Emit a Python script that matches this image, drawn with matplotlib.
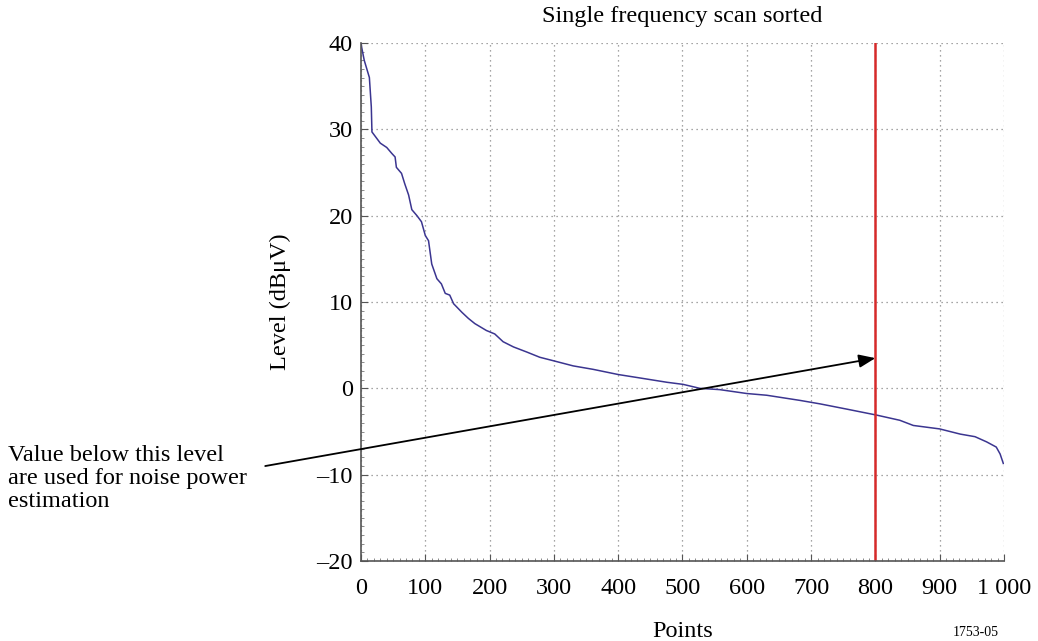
import numpy as np
import matplotlib.pyplot as plt
from matplotlib.ticker import MultipleLocator

plt.rcParams['font.family'] = ['Liberation Serif', 'DejaVu Serif']

# sorted scan
points = [0, 1, 5, 9, 13, 16, 17, 23, 30, 40, 48, 53, 55, 63, 68, 74, 79, 87,
          94, 100, 105, 110, 118, 125, 131, 138, 144, 157, 167, 177, 195, 208,
          221, 237, 258, 278, 299, 330, 361, 400, 434, 476, 501, 527, 558, 600,
          631, 683, 714, 755, 802, 838, 859, 900, 932, 955, 973, 988, 994, 999]
level = [40.0, 39.5, 38.0, 37.0, 36.0, 32.6, 29.7, 29.1, 28.4, 27.9, 27.2, 26.8,
         25.6, 24.9, 23.7, 22.4, 20.7, 20.0, 19.3, 17.7, 17.1, 14.4, 12.7, 12.1,
         11.0, 10.8, 9.8, 8.8, 8.1, 7.5, 6.7, 6.3, 5.4, 4.8, 4.2, 3.6, 3.2, 2.6,
         2.2, 1.6, 1.2, 0.7, 0.46, 0.0, -0.15, -0.6, -0.8, -1.4, -1.8, -2.4, -3.1,
         -3.7, -4.3, -4.7, -5.3, -5.6, -6.2, -6.8, -7.6, -8.7]

threshold_point = 800
x_ticks = [0, 100, 200, 300, 400, 500, 600, 700, 800, 900, 1000]
x_labels = ['0', '100', '200', '300', '400', '500', '600', '700', '800', '900', '1 000']
y_ticks = [-20, -10, 0, 10, 20, 30, 40]
y_labels = ['\u201320', '\u201310', '0', '10', '20', '30', '40']

fs = 17.5

fig = plt.figure(figsize=(10.38, 6.41), dpi=100)
ax = fig.add_axes([0.3478, 0.1248, 0.6194, 0.8081])

ax.plot(points, level, color='#3b3590', lw=1.1)
ax.axvline(threshold_point, color='#d62a2a', lw=1.8)

ax.set_xlim(0, 1000)
ax.set_ylim(-20, 40)
ax.set_xticks(x_ticks)
ax.set_xticklabels(x_labels)
ax.set_yticks(y_ticks)
ax.set_yticklabels(y_labels)
ax.grid(True, linestyle=(0, (1, 3)), color='#888888', lw=0.9)
ax.tick_params(direction='in', length=5, labelsize=fs, color='#555555', pad=6)
ax.tick_params(axis='x', pad=12)
ax.xaxis.set_minor_locator(MultipleLocator(10))
ax.yaxis.set_minor_locator(MultipleLocator(1))
ax.tick_params(which='minor', direction='in', length=2, color='#777777')
for s in ['top', 'right']:
    ax.spines[s].set_visible(False)
for s in ['left', 'bottom']:
    ax.spines[s].set_color('#555555')
    ax.spines[s].set_linewidth(1.2)

ax.set_title('Single frequency scan sorted', fontsize=fs, pad=15)
ax.set_xlabel('Points', fontsize=fs, labelpad=16)
ax.set_ylabel('Level (dB\u03bcV)', fontsize=fs, labelpad=18)

ax.annotate('', xy=(threshold_point, 3.5), xytext=(-149, -9.0),
            xycoords='data', textcoords='data', annotation_clip=False,
            arrowprops=dict(arrowstyle='-|>,head_length=1.0,head_width=0.4',
                            color='black', lw=1.3, shrinkA=0, shrinkB=0))
fig.text(0.008, 0.305, 'Value below this level\nare used for noise power\nestimation',
         fontsize=fs, va='top', ha='left', linespacing=1.12)
fig.text(0.918, 0.003, '1753-05', fontsize=10, va='bottom', ha='left')

fig.savefig('out.png', dpi=100)
